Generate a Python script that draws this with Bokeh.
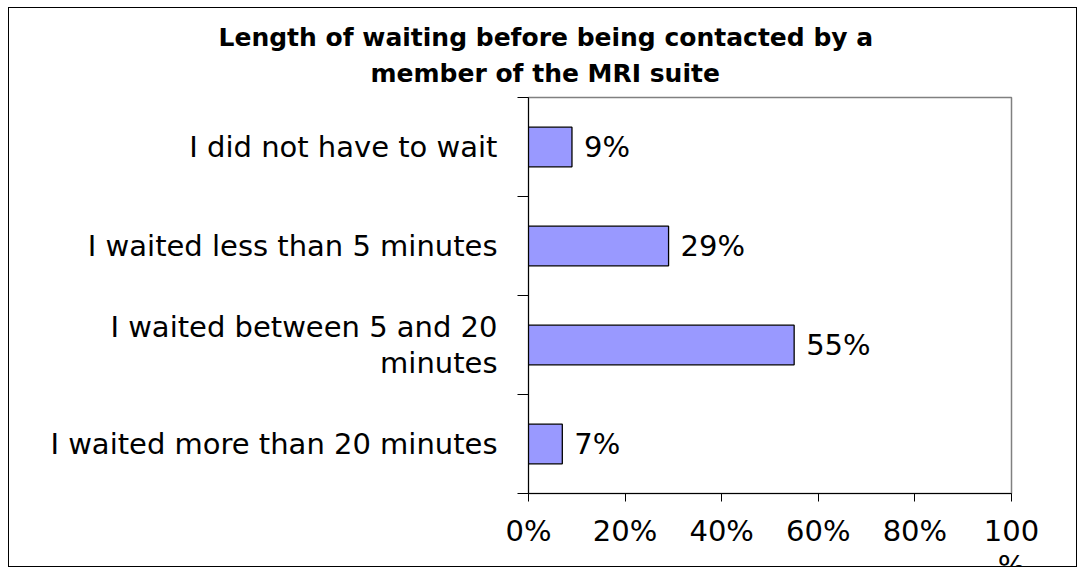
from bokeh.plotting import figure
from bokeh.models import Range1d, FixedTicker, Title, ColumnDataSource
from bokeh.core.properties import value
from bokeh.embed import file_html
from bokeh.resources import INLINE

categories = [
    "I did not have to wait",
    "I waited less than 5 minutes",
    "I waited between 5 and 20\nminutes",
    "I waited more than 20 minutes",
]
shares = [0.09, 0.29, 0.55, 0.07]
share_labels = ["9%", "29%", "55%", "7%"]
x_ticks = [0.0, 0.2, 0.4, 0.6, 0.8, 1.0]
x_tick_labels = ["0%", "20%", "40%", "60%", "80%", "100\n%"]
title_lines = ["Length of waiting before being contacted by a", "member of the MRI suite"]

FONT = "DejaVu Sans"
n = len(categories)
ys = [n - i - 0.5 for i in range(n)]

src = ColumnDataSource(dict(y=ys, share=shares, lab=share_labels, cat=categories))

p = figure(frame_width=483, frame_height=396, x_range=Range1d(0, 1), y_range=Range1d(0, n),
           output_backend="svg", toolbar_location=None,
           min_border_left=519, min_border_right=65, min_border_top=89, min_border_bottom=73)
p.styles = {"border": "1px solid #000", "box-sizing": "border-box",
            "margin": "7px 0 0 8px", "height": "560px", "overflow": "hidden"}

p.title.text = title_lines[0]
p.title.align = "left"
p.title.offset = -310
p.title.vertical_align = "bottom"
p.title.text_font = FONT
p.title.text_font_style = "bold"
p.title.text_font_size = "25px"
p.title.text_color = "black"
p.title.standoff = 0
p.add_layout(Title(text=title_lines[1], align="left", offset=-158, vertical_align="top",
                   text_font=FONT, text_font_style="bold", text_font_size="25px",
                   text_color="black", text_line_height=0.6, standoff=15), "above")

p.hbar(y="y", right="share", left=0, height=0.4, source=src,
       fill_color="#9999FF", line_color="black", line_width=1.3)
p.text(x="share", y="y", text="lab", source=src, x_offset=12,
       text_font=value(FONT), text_font_size="29px", text_baseline="middle",
       text_align="left", text_color="black")

p.xgrid.visible = False
p.ygrid.visible = False
p.outline_line_color = "#808080"
p.outline_line_width = 1.5

# x axis
p.xaxis.ticker = FixedTicker(ticks=x_ticks, minor_ticks=[])
p.xaxis.major_label_overrides = {t: l for t, l in zip(x_ticks, x_tick_labels)}
p.xaxis.major_label_text_font = FONT
p.xaxis.major_label_text_font_size = "29px"
p.xaxis.major_label_text_color = "black"
p.xaxis.major_label_text_line_height = 1.05
p.xaxis.major_label_standoff = 12
p.xaxis.major_tick_out = 8
p.xaxis.major_tick_in = 0
p.xaxis.axis_line_color = "black"
p.xaxis.major_tick_line_color = "black"

# y axis
p.yaxis.ticker = FixedTicker(ticks=ys, minor_ticks=[float(i) for i in range(n + 1)])
p.yaxis.major_label_overrides = {y: c for y, c in zip(ys, categories)}
p.yaxis.major_label_text_font = FONT
p.yaxis.major_label_text_font_size = "29px"
p.yaxis.major_label_text_color = "black"
p.yaxis.major_label_text_line_height = 1.05
p.yaxis.major_label_standoff = 20
p.yaxis.major_tick_out = 0
p.yaxis.major_tick_in = 0
p.yaxis.minor_tick_out = 11
p.yaxis.minor_tick_in = 0
p.yaxis.minor_tick_line_color = "black"
p.yaxis.axis_line_color = "black"

open("out.html", "w").write(file_html(p, INLINE))
